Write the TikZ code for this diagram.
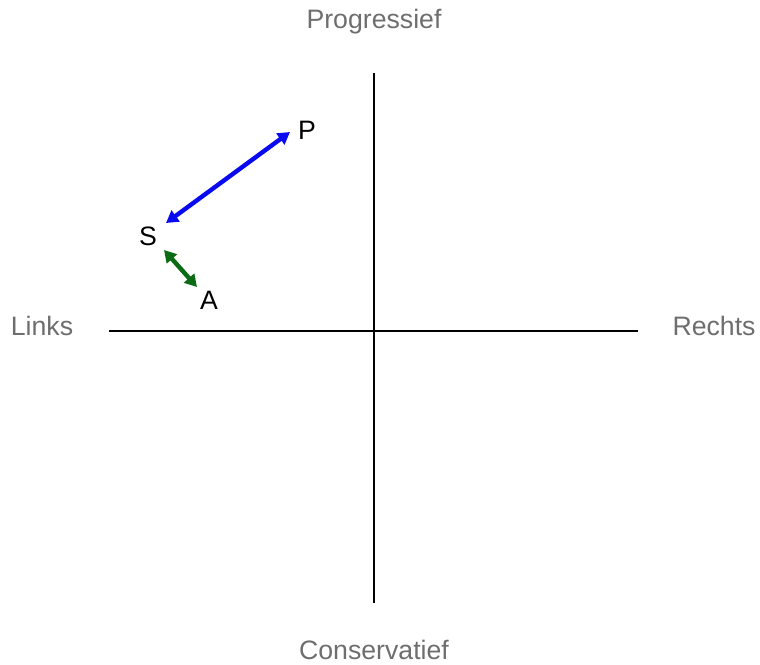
\documentclass[tikz,border=0pt]{standalone}
\usepackage{fontspec}
\setmainfont{Liberation Sans}
\usepackage{tikz}
\usetikzlibrary{arrows.meta,positioning}
\definecolor{AxisGray}{HTML}{6E6E6E}
\definecolor{PartyBlue}{HTML}{0A0AF0}
\definecolor{PartyGreen}{HTML}{0B6B14}

\begin{document}
\begin{tikzpicture}[x=0.75pt,y=-0.75pt,
		axislabel/.style={text=AxisGray,font=\fontsize{20}{22}\selectfont,inner sep=0pt},
		party/.style={text=black,font=\fontsize{20}{22}\selectfont,inner sep=0pt},
		relation/.style={{Triangle[length=9pt,width=10pt]}-{Triangle[length=9pt,width=10pt]},line width=3.3pt}]
		\useasboundingbox (0,0) rectangle (760,664);
		\coordinate (O) at (374,331);
		% axes
		\draw[line width=2.1pt] (109,331) -- (638,331);
		\draw[line width=2.1pt] (374,73) -- (374,603);
		\node[axislabel] (prog) at (374,22) {Progressief};
		\node[axislabel] (cons) at (374,650) {Conservatief};
		\node[axislabel] (links) at (42,326) {Links};
		\node[axislabel] (rechts) at (714,326) {Rechts};
		% parties
		\node[party] (P) at (307,130) {P};
		\node[party] (S) at (148,236) {S};
		\node[party] (A) at (209,300) {A};
		\coordinate (PS1) at (290,132);
		\coordinate (PS2) at (166,223);
		\coordinate (SA1) at (164,250);
		\coordinate (SA2) at (197,287);
		\draw[relation,PartyBlue] (PS2) -- (PS1);
		\draw[relation,PartyGreen] (SA1) -- (SA2);
	\end{tikzpicture}
\end{document}
